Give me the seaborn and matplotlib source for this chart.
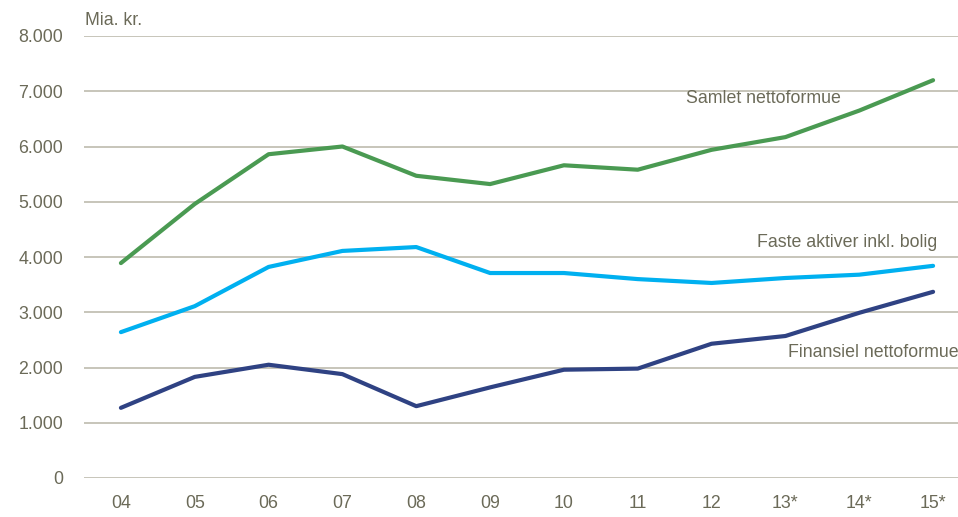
import matplotlib
matplotlib.use("Agg")
import matplotlib.pyplot as plt
import seaborn as sns
import pandas as pd

years = ["04", "05", "06", "07", "08", "09", "10", "11", "12", "13*", "14*", "15*"]
samlet = [3890, 4960, 5860, 6000, 5470, 5320, 5660, 5580, 5940, 6170, 6650, 7200]
faste = [2640, 3110, 3820, 4110, 4180, 3710, 3710, 3600, 3530, 3620, 3680, 3840]
finansiel = [1270, 1830, 2050, 1880, 1300, 1640, 1960, 1980, 2430, 2570, 2990, 3370]
yticks = [0, 1000, 2000, 3000, 4000, 5000, 6000, 7000, 8000]
ytick_labels = ["0", "1.000", "2.000", "3.000", "4.000", "5.000", "6.000", "7.000", "8.000"]

sns.set_theme(style="white")
FONT = ["Liberation Sans Narrow", "Liberation Sans", "DejaVu Sans"]
plt.rcParams["font.family"] = FONT
TXT = "#6b6a58"
GRID = "#c3c0b4"

df = pd.DataFrame({
    "x": list(range(len(years))) * 3,
    "v": samlet + faste + finansiel,
    "s": ["Samlet nettoformue"] * 12 + ["Faste aktiver inkl. bolig"] * 12 + ["Finansiel nettoformue"] * 12,
})
palette = {"Samlet nettoformue": "#4a9a52",
           "Faste aktiver inkl. bolig": "#00b0f0",
           "Finansiel nettoformue": "#2f4283"}

fig = plt.figure(figsize=(9.58, 5.17), dpi=100)
ax = fig.add_axes([84 / 958, 1 - 478 / 517, 886 / 958, (478 - 36) / 517])
ax.set_ylim(0, 8000)
ax.set_xlim(-0.5, 11.5)
for y in yticks:
    ax.axhline(y, color=GRID, lw=1.3, zorder=0)
sns.lineplot(data=df, x="x", y="v", hue="s", palette=palette, lw=3.0,
             legend=False, ax=ax, solid_capstyle="round", zorder=3)
for sp in ax.spines.values():
    sp.set_visible(False)
ax.set_xticks(range(len(years)))
ax.set_xticklabels(years)
ax.set_yticks(yticks)
ax.set_yticklabels(ytick_labels)
ax.tick_params(axis="both", length=0, labelsize=12.8, colors=TXT)
ax.tick_params(axis="y", pad=15)
ax.tick_params(axis="x", pad=12)
ax.set_xlabel("")
ax.set_ylabel("")
ax.grid(False)

ax.text(-0.49, 8120, "Mia. kr.", fontsize=12.8, color=TXT, ha="left", va="bottom")
ax.text(7.65, 6860, "Samlet nettoformue", fontsize=12.8, color=TXT, ha="left", va="center")
ax.text(8.62, 4260, "Faste aktiver inkl. bolig", fontsize=12.8, color=TXT, ha="left", va="center")
ax.text(9.03, 2270, "Finansiel nettoformue", fontsize=12.8, color=TXT, ha="left", va="center")
for t in ax.texts:
    t.set_clip_on(False)

fig.savefig("out.png", dpi=100)
